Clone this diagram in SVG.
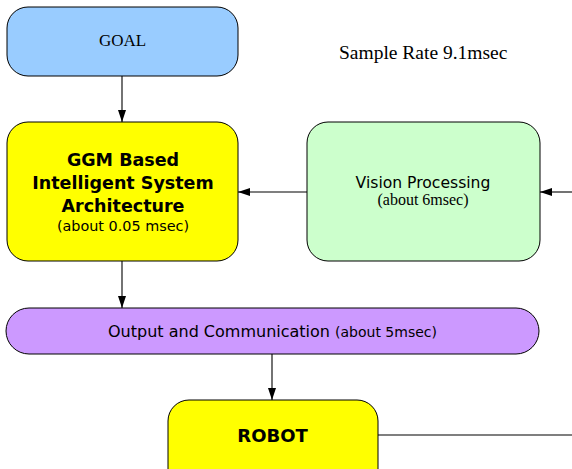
<svg xmlns="http://www.w3.org/2000/svg" width="572" height="469" viewBox="0 0 572 469">
  <defs>
    <marker id="arrow" viewBox="0 0 12 8" refX="12" refY="4" markerWidth="12" markerHeight="8" markerUnits="userSpaceOnUse" orient="auto">
      <path d="M0,0 L12,4 L0,8 z" fill="#000"/>
    </marker>
    <style>
      .box { stroke: #000; stroke-width: 1; }
      .edge { stroke: #000; stroke-width: 1.1; fill: none; }
      .sans { font-family: "DejaVu Sans", Verdana, sans-serif; fill: #000; }
      .serif { font-family: "Liberation Serif", "Times New Roman", serif; fill: #000; }
    </style>
  </defs>
  <rect width="572" height="469" fill="#fff"/>

  <g id="edges">
    <line class="edge" x1="122" y1="76" x2="122" y2="122" marker-end="url(#arrow)"/>
    <line class="edge" x1="307" y1="192" x2="238" y2="192" marker-end="url(#arrow)"/>
    <line class="edge" x1="572" y1="192" x2="540" y2="192" marker-end="url(#arrow)"/>
    <line class="edge" x1="122" y1="261" x2="122" y2="308" marker-end="url(#arrow)"/>
    <line class="edge" x1="272" y1="354" x2="272" y2="400" marker-end="url(#arrow)"/>
    <line class="edge" x1="378" y1="435" x2="572" y2="435"/>
  </g>

  <g id="goal">
    <rect class="box" x="7" y="7" width="231" height="69" rx="21" fill="#99ccff"/>
    <text class="serif" x="122.5" y="46" font-size="17" text-anchor="middle">GOAL</text>
  </g>

  <g id="sample-rate">
    <text class="serif" x="339" y="59" font-size="19.5">Sample Rate 9.1msec</text>
  </g>

  <g id="ggm">
    <rect class="box" x="7" y="122" width="231" height="139" rx="21" fill="#ffff00"/>
    <text class="sans" x="123" y="166" font-size="17.5" font-weight="bold" text-anchor="middle">GGM Based</text>
    <text class="sans" x="123" y="189" font-size="17.5" font-weight="bold" text-anchor="middle">Intelligent System</text>
    <text class="sans" x="123" y="212" font-size="17.5" font-weight="bold" text-anchor="middle">Architecture</text>
    <text class="sans" x="123" y="231" font-size="14.4" text-anchor="middle">(about 0.05 msec)</text>
  </g>

  <g id="vision">
    <rect class="box" x="307" y="122" width="233" height="139" rx="21" fill="#ccffcc"/>
    <text class="sans" x="423" y="188" font-size="15.6" text-anchor="middle">Vision Processing</text>
    <text class="serif" x="423" y="205" font-size="16" text-anchor="middle">(about 6msec)</text>
  </g>

  <g id="output">
    <rect class="box" x="6" y="308" width="533" height="46" rx="23" fill="#cc99ff"/>
    <text class="sans" x="272.5" y="337" font-size="16" text-anchor="middle">Output and Communication <tspan font-size="14">(about 5msec)</tspan></text>
  </g>

  <g id="robot">
    <rect class="box" x="168" y="400" width="210" height="90" rx="21" fill="#ffff00"/>
    <text class="sans" x="272.5" y="442" font-size="18" font-weight="bold" text-anchor="middle">ROBOT</text>
  </g>
</svg>
